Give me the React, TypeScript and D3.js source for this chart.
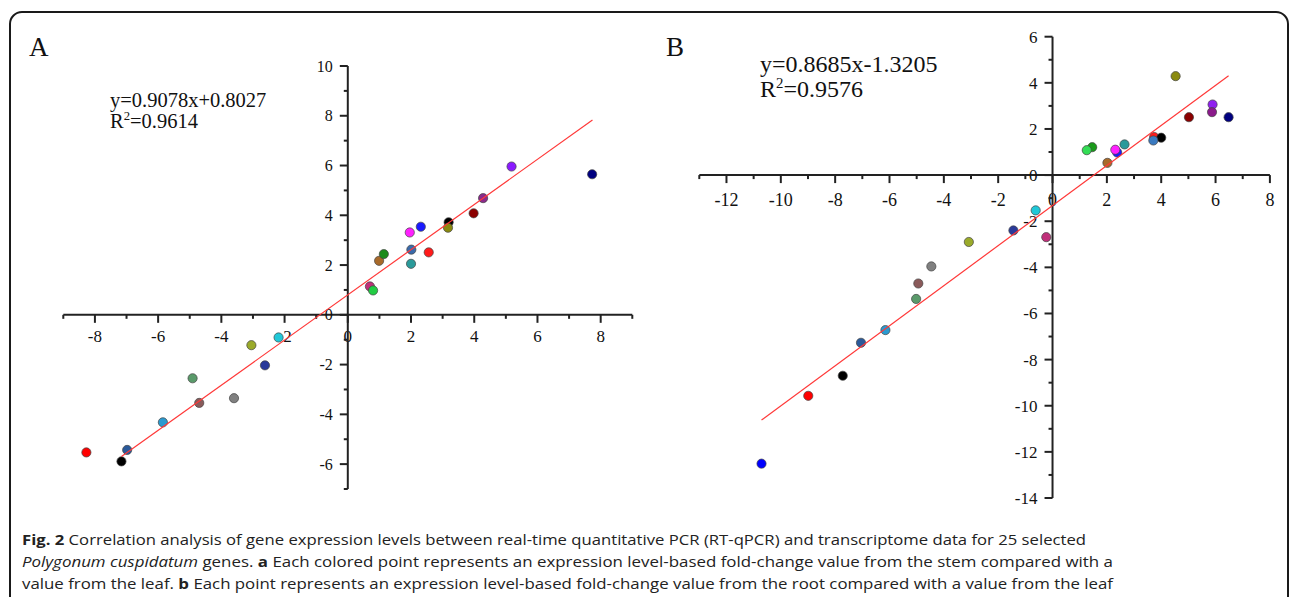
import React from 'react';
import * as d3 from 'd3';

// panel A: stem vs leaf (RT-qPCR x, transcriptome y)
const aX = [0.7, 0.8, 0.99, 1.14, 1.96, 2.01, 2.0, 2.31, 2.56, 3.19, 3.17, 3.98, 4.28, 5.18, 7.73,
  -8.27, -6.98, -7.16, -5.85, -4.91, -4.7, -3.6, -3.05, -2.62, -2.19];
const aY = [1.14, 0.98, 2.17, 2.44, 3.31, 2.62, 2.05, 3.54, 2.51, 3.72, 3.5, 4.08, 4.69, 5.96, 5.65,
  -5.53, -5.43, -5.89, -4.32, -2.55, -3.54, -3.35, -1.22, -2.03, -0.91];
const aColors = ['#c0307a', '#22cc44', '#a86a2a', '#1a8a1a', '#ff20ff', '#3a6aaa', '#2a9a9a', '#1a1aff', '#ff1a1a', '#000000', '#8a8a10', '#8b0000', '#8b2a8b', '#8a1aff', '#000080',
  '#ff0000', '#2a5a9a', '#000000', '#2a9ad0', '#5a9a6a', '#8a5a5a', '#808080', '#9aaa2a', '#2a3a9a', '#20c8d8'];

// panel B: root vs leaf
const bX = [4.53, 5.89, 5.87, 6.48, 5.02, 3.74, 4.0, 3.71, 2.65, 2.38, 2.31, 1.46, 1.26, 2.02,
  -0.62, -1.44, -0.23, -3.08, -4.46, -4.94, -5.02, -6.15, -7.05, -7.72, -8.99, -10.71];
const bY = [4.29, 3.06, 2.73, 2.51, 2.51, 1.65, 1.62, 1.5, 1.33, 0.98, 1.1, 1.21, 1.08, 0.53,
  -1.53, -2.4, -2.69, -2.9, -3.96, -4.7, -5.37, -6.72, -7.27, -8.7, -9.57, -12.51];
const bColors = ['#8a8a10', '#9020f0', '#8b1a8b', '#000080', '#8b0000', '#ff1a1a', '#000000', '#3a7ac0', '#2a9a9a', '#1a1aff', '#ff20ff', '#1a9a1a', '#33dd55', '#a86a2a',
  '#20c8d8', '#2a3a9a', '#c0307a', '#9aaa2a', '#808080', '#8a5a5a', '#5a9a6a', '#2a9ad0', '#2a5a9a', '#000000', '#ff0000', '#0000ff'];

const aXTicks = [-8, -6, -4, -2, 0, 2, 4, 6, 8];
const aYTicks = [-6, -4, -2, 0, 2, 4, 6, 8, 10];
const bXTicks = [-12, -10, -8, -6, -4, -2, 0, 2, 4, 6, 8];
const bYTicks = [-14, -12, -10, -8, -6, -4, -2, 0, 2, 4, 6];

const fitA = { slope: 0.9078, intercept: 0.8027, from: -7.16, to: 7.74, r2: '0.9614' };
const fitB = { slope: 0.8685, intercept: -1.3205, from: -10.71, to: 6.48, r2: '0.9576' };

const serif = { fontFamily: '"Liberation Serif", "Times New Roman", serif' };
const axisColor = '#222';

function Panel(props) {
  const { xs, ys, colors, xDom, yDom, xRange, yRange, xTicks, yTicks, fit, eq, eqPos, eqSize, tickSize, xLabelGap, letter, letterX } = props;
  const x = d3.scaleLinear().domain(xDom).range(xRange);
  const y = d3.scaleLinear().domain(yDom).range(yRange);
  const x0 = x(0);
  const y0 = y(0);
  const xMinor = d3.range(Math.ceil(xDom[0]), xDom[1] + 0.001, 1).filter((v) => Math.abs(v) % 2 === 1);
  const yMinor = d3.range(Math.ceil(yDom[0]), yDom[1] + 0.001, 1).filter((v) => Math.abs(v) % 2 === 1);
  const line = d3.line().x((d) => x(d[0])).y((d) => y(d[1]));
  const fitPts = [fit.from, fit.to].map((v) => [v, fit.slope * v + fit.intercept]);

  return (
    <g style={serif}>
      <text x={letterX} y={56} fontSize={27} fill="#111">{letter}</text>
      <text x={eqPos[0]} y={eqPos[1]} fontSize={eqSize} fill="#111">{eq}</text>
      <text x={eqPos[0]} y={eqPos[1] + eqSize * 1.03} fontSize={eqSize} fill="#111">
        R<tspan fontSize={eqSize * 0.62} dy={-eqSize * 0.38}>2</tspan>
        <tspan dy={eqSize * 0.38}>={fit.r2}</tspan>
      </text>

      {/* x axis */}
      <line x1={xRange[0]} x2={xRange[1]} y1={y0} y2={y0} stroke={axisColor} strokeWidth={2} />
      {xTicks.map((t) => (
        <g key={'xt' + t}>
          <line x1={x(t)} x2={x(t)} y1={y0} y2={y0 + 8} stroke={axisColor} strokeWidth={2} />
          <text x={x(t)} y={y0 + xLabelGap} textAnchor="middle" fontSize={tickSize + 1} fill="#111">{t}</text>
        </g>
      ))}
      {xMinor.map((t) => (
        <line key={'xm' + t} x1={x(t)} x2={x(t)} y1={y0} y2={y0 + 4} stroke={axisColor} strokeWidth={2} />
      ))}

      {/* y axis */}
      <line x1={x0} x2={x0} y1={yRange[0]} y2={yRange[1]} stroke={axisColor} strokeWidth={2} />
      {yTicks.map((t) => (
        <g key={'yt' + t}>
          <line x1={x0 - 8} x2={x0} y1={y(t)} y2={y(t)} stroke={axisColor} strokeWidth={2} />
          <text x={x0 - 15} y={y(t)} dy="0.35em" textAnchor="end" fontSize={tickSize} fill="#111">{t}</text>
        </g>
      ))}
      {yMinor.map((t) => (
        <line key={'ym' + t} x1={x0 - 4} x2={x0} y1={y(t)} y2={y(t)} stroke={axisColor} strokeWidth={2} />
      ))}

      {xs.map((v, i) => (
        <circle key={'p' + i} cx={x(v)} cy={y(ys[i])} r={4.6} fill={colors[i]} stroke="#444" strokeWidth={0.7} />
      ))}

      <path d={line(fitPts)} stroke="#ff3838" strokeWidth={1.2} fill="none" />
    </g>
  );
}

export default function App() {
  const W = 1290;
  const H = 597;
  const capFont = { fontFamily: '"Open Sans", "Noto Sans", sans-serif' };
  return (
    <svg width={W} height={H} style={{ position: 'absolute', left: 0, top: 0, background: '#fff' }}>
      <rect x={0} y={0} width={W} height={H} fill="#fff" />
      <rect x={10} y={12} width={1278} height={640} rx={12} fill="none" stroke="#1a1a1a" strokeWidth={2} />

      <Panel xs={aX} ys={aY} colors={aColors} xDom={[-9, 9]} yDom={[-7, 10]} xRange={[63.3, 632.3]} yRange={[489, 66]}
        xTicks={aXTicks} yTicks={aYTicks} fit={fitA} eq="y=0.9078x+0.8027" eqPos={[110, 107]} eqSize={20.5}
        tickSize={16} xLabelGap={27} letter="A" letterX={29} />
      <Panel xs={bX} ys={bY} colors={bColors} xDom={[-13, 8]} yDom={[-14, 6]} xRange={[699.3, 1269.9]} yRange={[498, 36.7]}
        xTicks={bXTicks} yTicks={bYTicks} fit={fitB} eq="y=0.8685x-1.3205" eqPos={[760, 72]} eqSize={24}
        tickSize={17} xLabelGap={30.5} letter="B" letterX={666} />

      <g style={capFont} fontSize={15} fill="#222">
        <text x={22} y={545} textLength={1064} lengthAdjust="spacingAndGlyphs">
          <tspan fontWeight="bold">Fig. 2</tspan> Correlation analysis of gene expression levels between real-time quantitative PCR (RT-qPCR) and transcriptome data for 25 selected
        </text>
        <text x={22} y={567} textLength={1091} lengthAdjust="spacingAndGlyphs">
          <tspan fontStyle="italic">Polygonum cuspidatum</tspan> genes. <tspan fontWeight="bold">a</tspan> Each colored point represents an expression level-based fold-change value from the stem compared with a
        </text>
        <text x={22} y={589} textLength={1091} lengthAdjust="spacingAndGlyphs">
          value from the leaf. <tspan fontWeight="bold">b</tspan> Each point represents an expression level-based fold-change value from the root compared with a value from the leaf
        </text>
      </g>
    </svg>
  );
}
